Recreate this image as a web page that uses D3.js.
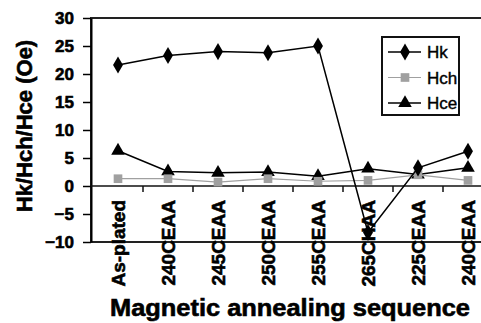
<!DOCTYPE html>
<html>
<head>
<meta charset="utf-8">
<script src="https://cdn.jsdelivr.net/npm/d3@7"></script>
<style>
  body { margin: 0; background: #fff; }
  text { font-family: "Liberation Sans", Arial, sans-serif; }
  .heavy { font-weight: bold; stroke: #000; stroke-width: 0.6px; }
</style>
</head>
<body>
<div id="chartdiv"></div>
<script>
const categories = ["As-plated", "240CEAA", "245CEAA", "250CEAA", "255CEAA", "265CHAA", "225CEAA", "240CEAA "];
const hk  = [21.6, 23.3, 24.0, 23.8, 25.0, -8.3, 3.25, 6.2];
const hch = [1.3, 1.3, 0.7, 1.3, 0.85, 1.0, 2.0, 1.0];
const hce = [6.3, 2.6, 2.35, 2.5, 1.75, 3.1, 2.05, 3.25];
const yTicks = [-10, -5, 0, 5, 10, 15, 20, 25, 30];

const svg = d3.select("#chartdiv").append("svg").attr("width", 481).attr("height", 323);

const x = d3.scaleBand().domain(categories).range([93, 493]);
const y = d3.scaleLinear().domain([-10, 30]).range([242, 18]);
const cx = d => x(d) + x.bandwidth() / 2;

// plot frame (right side falls outside the picture)
svg.append("rect")
  .attr("x", 91).attr("y", 18)
  .attr("width", 420).attr("height", 224)
  .attr("fill", "none").attr("stroke", "#222").attr("stroke-width", 2);

// y axis
const yAxis = svg.append("g")
  .attr("transform", "translate(91,0)")
  .call(d3.axisLeft(y).tickValues(yTicks).tickSize(8).tickPadding(9).tickSizeOuter(0));
yAxis.select(".domain").attr("stroke-width", 2);
yAxis.selectAll(".tick line").attr("stroke-width", 1.5);
yAxis.selectAll("text")
  .attr("font-size", 17)
  .style("font-family", "'Liberation Sans', Arial, sans-serif")
  .style("font-weight", "bold")
  .style("stroke", "#000")
  .style("stroke-width", "0.6px");

// zero line with ticks between categories
svg.append("line")
  .attr("x1", 91).attr("x2", 481)
  .attr("y1", y(0)).attr("y2", y(0))
  .attr("stroke", "#111").attr("stroke-width", 1.5);
svg.selectAll(".xtick")
  .data(categories.slice(1))
  .join("line")
  .attr("class", "xtick")
  .attr("x1", d => x(d)).attr("x2", d => x(d))
  .attr("y1", y(0)).attr("y2", y(0) + 6)
  .attr("stroke", "#111").attr("stroke-width", 1.5);

// category labels
svg.selectAll(".xlabel")
  .data(categories)
  .join("text")
  .attr("class", "xlabel heavy")
  .attr("transform", d => `translate(${cx(d)},200) rotate(-90)`)
  .attr("dy", "0.35em")
  .attr("text-anchor", "end")
  .attr("font-size", 19)
  .text(d => d.trim());

// series
const series = [
  { name: "Hk", values: hk, color: "#000", width: 1.5, marker: d3.symbolDiamond, size: 85 },
  { name: "Hch", values: hch, color: "#a0a0a0", width: 1.2, marker: d3.symbolSquare, size: 75 },
  { name: "Hce", values: hce, color: "#000", width: 1.5, marker: d3.symbolTriangle, size: 80 }
];

const line = d3.line().x(d => cx(d.c)).y(d => y(d.v));

series.slice().reverse().forEach(s => {
  const pts = categories.map((c, i) => ({ c: c, v: s.values[i] }));
  svg.append("path")
    .datum(pts)
    .attr("d", line)
    .attr("fill", "none")
    .attr("stroke", s.color)
    .attr("stroke-width", s.width);
  svg.selectAll(".m-" + s.name)
    .data(pts)
    .join("path")
    .attr("class", "m-" + s.name)
    .attr("transform", d => `translate(${cx(d.c)},${y(d.v)})`)
    .attr("d", d3.symbol().type(s.marker).size(s.size))
    .attr("fill", s.color);
});

// legend
const legend = svg.append("g").attr("transform", "translate(382,37)");
legend.append("rect")
  .attr("width", 77).attr("height", 78)
  .attr("fill", "#fff").attr("stroke", "#111").attr("stroke-width", 2);
series.forEach((s, i) => {
  const ly = 15 + i * 25.5;
  legend.append("line")
    .attr("x1", 6).attr("x2", 39).attr("y1", ly).attr("y2", ly)
    .attr("stroke", s.color).attr("stroke-width", s.width);
  legend.append("path")
    .attr("transform", `translate(23,${ly})`)
    .attr("d", d3.symbol().type(s.marker).size(s.size))
    .attr("fill", s.color);
  legend.append("text")
    .attr("x", 45).attr("y", ly).attr("dy", "0.36em")
    .attr("font-size", 17)
    .attr("stroke", "#000").attr("stroke-width", 0.4)
    .text(s.name);
});

// axis titles
svg.append("text")
  .attr("class", "heavy")
  .attr("transform", "translate(32,126) rotate(-90)")
  .attr("text-anchor", "middle")
  .attr("font-size", 22)
  .text("Hk/Hch/Hce (Oe)");

svg.append("text")
  .attr("class", "heavy")
  .attr("x", 290).attr("y", 316)
  .attr("text-anchor", "middle")
  .attr("font-size", 23)
  .attr("textLength", 360).attr("lengthAdjust", "spacingAndGlyphs")
  .text("Magnetic annealing sequence");
</script>
</body>
</html>
